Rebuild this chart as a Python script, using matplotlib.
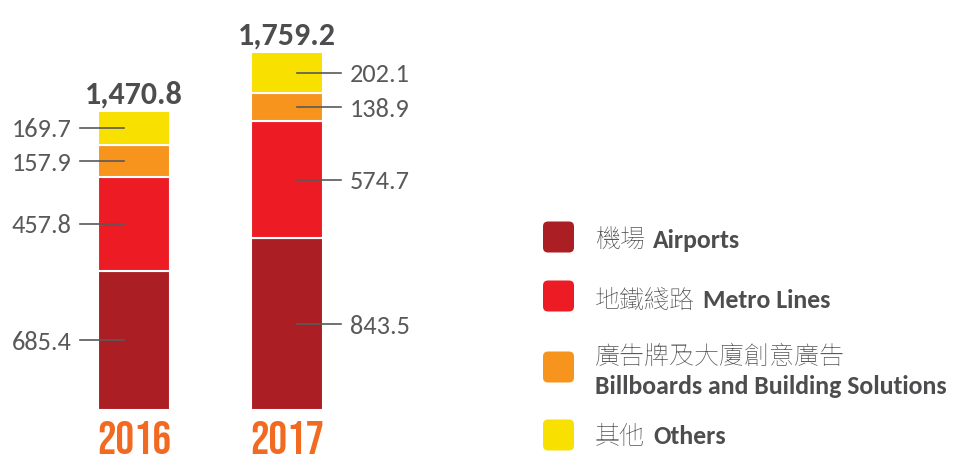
import matplotlib
matplotlib.use('Agg')
import matplotlib.pyplot as plt
from matplotlib.patches import FancyBboxPatch
from matplotlib.transforms import IdentityTransform
import numpy as np

# data
years = ['2016', '2017']
seg_cn = ['機場', '地鐵綫路', '廣告牌及大廈創意廣告', '其他']
seg_en = ['Airports', 'Metro Lines', 'Billboards and Building Solutions', 'Others']
airports = [685.4, 843.5]
metro = [457.8, 574.7]
billboards = [157.9, 138.9]
others = [169.7, 202.1]
colors = ['#ab1e23', '#ed1c24', '#f7941d', '#f8e000']

series = [airports, metro, billboards, others]
totals = np.sum(series, axis=0)

# style
GREY = '#58595b'
DARK = '#4d4d4f'
ORANGE = '#f26a21'
plt.rcParams['font.family'] = ['Carlito', 'DejaVu Sans']
CJK = ['Noto Sans TC', 'Noto Sans CJK JP', 'DejaVu Sans']

W, H = 962, 458
fig = plt.figure(figsize=(W / 100, H / 100), dpi=100)
ax = fig.add_axes([0, 48 / H, 480 / W, (410 - 52) / H])

x = np.arange(len(years))
bottom = np.zeros(len(years))
for vals, c in zip(series, colors):
    vals = np.array(vals)
    ax.bar(x, vals, 0.47, bottom=bottom, color=c, edgecolor='white', linewidth=1.5, zorder=2)
    mids = bottom + vals / 2
    for i in range(len(x)):
        s = -1 if i == 0 else 1
        ax.plot([x[i] + s * 0.065, x[i] + s * 0.35], [mids[i], mids[i]], color=GREY, lw=1.2, zorder=3)
        ax.text(x[i] + s * 0.41, mids[i], f'{vals[i]:.1f}', ha='right' if s < 0 else 'left',
                va='center_baseline', fontsize=19, color=GREY)
    bottom = bottom + vals

year_txt = []
for i in range(len(x)):
    ax.annotate(f'{totals[i]:,.1f}', xy=(x[i], totals[i]), xytext=(0, 7), textcoords='offset pixels',
                ha='center', va='baseline', fontsize=23, fontweight='bold', color=DARK)
    t = ax.annotate(years[i], xy=(x[i], 0), xytext=(0, -44), textcoords='offset pixels',
                    ha='center', va='baseline', fontsize=30, color=ORANGE,
                    family='Bebas Neue', annotation_clip=False)
    year_txt.append(t)

ax.set_xlim(-134 / 153, (480 - 134) / 153)
ax.set_ylim(0, totals.max())
ax.axis('off')

# legend drawn by hand (rounded squares)
box_cy = [237, 296, 367, 435]
cn_base = [248, 308, 364, 444]
for k in range(len(seg_cn)):
    sq = FancyBboxPatch((543, H - box_cy[k] - 15.5), 31, 31,
                        boxstyle='round,pad=0,rounding_size=5',
                        facecolor=colors[k], edgecolor='none', transform=IdentityTransform())
    fig.add_artist(sq)
    t_cn = fig.text(595 / W, 1 - cn_base[k] / H, seg_cn[k], fontsize=18, color=GREY, va='baseline',
                    family=CJK, fontweight='medium')
    if k == 2:
        fig.text(595 / W, 1 - 394 / H, seg_en[k], fontsize=18.5, fontweight='bold', color=DARK,
                 va='baseline')
    else:
        ax.annotate(seg_en[k], xy=(1, 1 - cn_base[k] / H), xycoords=(t_cn, 'figure fraction'),
                    xytext=(8, 0), textcoords='offset pixels', va='baseline', ha='left',
                    fontsize=18.5, fontweight='bold', color=DARK, annotation_clip=False)

# fit the condensed year labels to the bar width
fig.canvas.draw()
for t in year_txt:
    w = t.get_window_extent().width
    t.set_fontsize(t.get_fontsize() * 74 / w)

fig.savefig('out.png', dpi=100)
